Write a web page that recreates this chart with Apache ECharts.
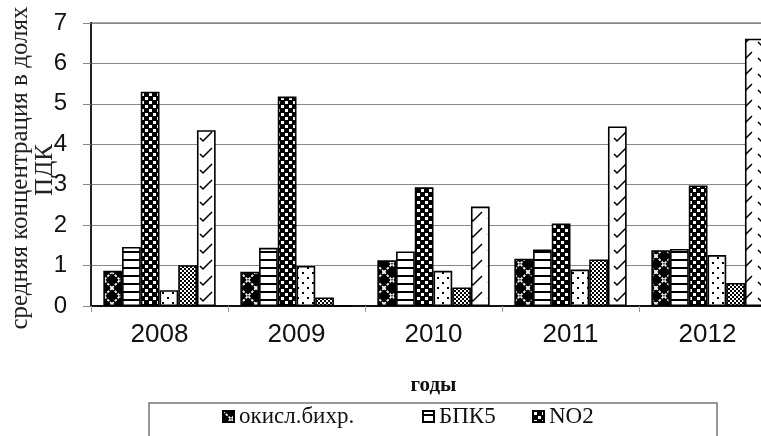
<!DOCTYPE html>
<html>
<head>
<meta charset="utf-8">
<script src="https://cdn.jsdelivr.net/npm/echarts@6/dist/echarts.min.js"></script>
<style>
  html, body { margin: 0; padding: 0; background: #fff; }
  #chart { width: 761px; height: 436px; }
</style>
</head>
<body>
<div id="chart"></div>
<script>
// Годы наблюдений
const years = ['2008', '2009', '2010', '2011', '2012'];

// Средняя концентрация, доли ПДК
const okislBihr = [0.87, 0.85, 1.13, 1.17, 1.38];
const bpk5      = [1.46, 1.44, 1.35, 1.40, 1.41];
const no2       = [5.30, 5.18, 2.94, 2.04, 2.98];
const nh4       = [0.39, 0.99, 0.87, 0.90, 1.26];
const nefteprod = [1.01, 0.21, 0.46, 1.15, 0.57];
const medj      = [4.35, 0.00, 2.46, 4.44, 6.61];

const seriesNames = ['окисл.бихр.', 'БПК5', 'NO2', 'NH4', 'нефтепродукты', 'медь'];
const seriesData = [okislBihr, bpk5, no2, nh4, nefteprod, medj];

const yTicks = [0, 1, 2, 3, 4, 5, 6, 7];
const yTitleLines = ['средняя концентрация в долях', 'ПДК'];

// --- hatch fills drawn on small canvases ---
function tile(w, h, draw) {
  const c = document.createElement('canvas');
  c.width = w; c.height = h;
  const g = c.getContext('2d');
  draw(g, w, h);
  return { image: c, repeat: 'repeat' };
}

const fills = [
  // black with white crossing diagonals
  tile(16, 16, (g, w, h) => {
    g.fillStyle = '#000'; g.fillRect(0, 0, w, h);
    g.strokeStyle = '#fff'; g.lineWidth = 1.8;
    g.setLineDash([2.5, 1.5]);
    g.beginPath(); g.moveTo(0, 0); g.lineTo(w, h); g.stroke();
    g.beginPath(); g.moveTo(w, 0); g.lineTo(0, h); g.stroke();
  }),
  // horizontal stripes
  tile(8, 8, (g, w, h) => {
    g.fillStyle = '#fff'; g.fillRect(0, 0, w, h);
    g.fillStyle = '#000'; g.fillRect(0, 3, w, 2);
  }),
  // large checker: white squares on black
  tile(8, 8, (g, w, h) => {
    g.fillStyle = '#000'; g.fillRect(0, 0, w, h);
    g.fillStyle = '#fff';
    g.fillRect(1, 1, 3, 3);
    g.fillRect(5, 5, 3, 3);
  }),
  // sparse dots
  tile(10, 10, (g, w, h) => {
    g.fillStyle = '#fff'; g.fillRect(0, 0, w, h);
    g.fillStyle = '#000';
    g.fillRect(2, 2, 2, 2);
    g.fillRect(7, 7, 2, 2);
  }),
  // fine checker (grey look)
  tile(4, 4, (g, w, h) => {
    g.fillStyle = '#fff'; g.fillRect(0, 0, w, h);
    g.fillStyle = '#000';
    g.fillRect(0, 0, 2, 2);
    g.fillRect(2, 2, 2, 2);
  }),
  // dashed diagonal strokes
  tile(18, 16, (g, w, h) => {
    g.fillStyle = '#fff'; g.fillRect(0, 0, w, h);
    g.strokeStyle = '#000'; g.lineWidth = 1.5;
    g.beginPath(); g.moveTo(2, 10); g.lineTo(5, 13); g.lineTo(14, 4); g.stroke();
  })
];

const chart = echarts.init(document.getElementById('chart'), null, { renderer: 'canvas' });

const legendText = { fontFamily: 'Liberation Serif', fontSize: 23, color: '#111' };
function legendAt(name, left) {
  return {
    data: [name], left: left, top: 405,
    icon: 'rect', itemWidth: 11, itemHeight: 11, itemGap: 0,
    textStyle: legendText, padding: 0, selectedMode: false
  };
}

const titleFont = { fontFamily: 'Liberation Serif', fontSize: 25, fill: '#222', align: 'center', verticalAlign: 'middle' };

chart.setOption({
  animation: false,
  backgroundColor: '#fff',
  grid: {
    left: 91, top: 23, width: 685, height: 283,
    containLabel: false, outerBoundsMode: 'none',
    show: true, borderColor: '#888', borderWidth: 1.5, backgroundColor: 'transparent'
  },
  legend: [
    legendAt(seriesNames[0], 222),
    legendAt(seriesNames[1], 422),
    legendAt(seriesNames[2], 532)
  ],
  graphic: [
    {
      type: 'rect', silent: true,
      shape: { x: 149, y: 403, width: 568, height: 60 },
      style: { fill: 'none', stroke: '#777', lineWidth: 1.5 }
    },
    {
      type: 'text', silent: true, x: 20, y: 168, rotation: Math.PI / 2,
      style: Object.assign({ text: yTitleLines[0] }, titleFont)
    },
    {
      type: 'text', silent: true, x: 45, y: 170, rotation: Math.PI / 2,
      style: Object.assign({ text: yTitleLines[1] }, titleFont)
    }
  ],
  xAxis: {
    type: 'category',
    data: years,
    name: 'годы',
    nameLocation: 'middle',
    nameGap: 69,
    nameTextStyle: { fontFamily: 'Liberation Serif', fontWeight: 'bold', fontSize: 21, color: '#111' },
    axisLine: { lineStyle: { color: '#111', width: 2 } },
    axisTick: { show: true, length: 6, lineStyle: { color: '#999' } },
    axisLabel: { fontFamily: 'Liberation Sans', fontSize: 26, color: '#111', margin: 16 }
  },
  yAxis: {
    type: 'value',
    min: 0, max: 7, interval: 1,
    axisLine: { show: true, lineStyle: { color: '#222', width: 2 } },
    axisTick: { show: true, length: 8, lineStyle: { color: '#888' } },
    splitLine: { lineStyle: { color: '#888', width: 1.2 } },
    axisLabel: {
      fontFamily: 'Liberation Sans', fontSize: 24, color: '#111', margin: 24,
      formatter: v => (yTicks.includes(v) ? String(v) : '')
    }
  },
  series: seriesNames.map((name, i) => ({
    name: name,
    type: 'bar',
    data: seriesData[i],
    barGap: '0%',
    barCategoryGap: '18%',
    itemStyle: { color: fills[i], borderColor: '#000', borderWidth: 1.6 }
  }))
});
</script>
</body>
</html>
